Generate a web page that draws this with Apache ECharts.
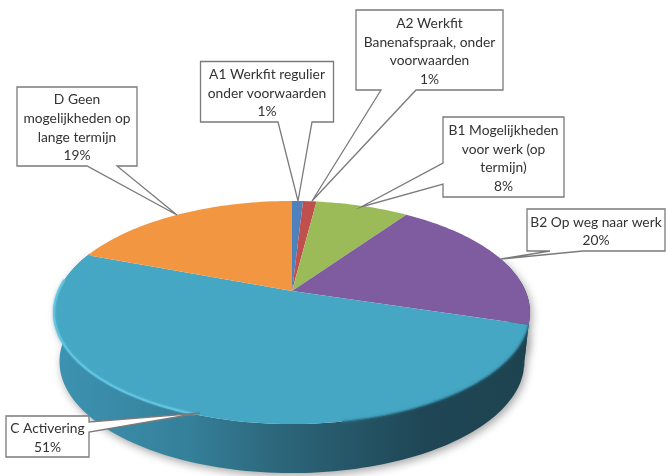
<!DOCTYPE html>
<html>
<head>
<meta charset="utf-8">
<style>html,body{margin:0;padding:0;background:#fff}#c{width:666px;height:476px}</style>
<script src="https://cdn.jsdelivr.net/npm/echarts@6/dist/echarts.min.js"></script>
</head>
<body>
<div id="c"></div>
<script>
// ---- data ----
const categories = [
  'A1 Werkfit regulier\nonder voorwaarden',
  'A2 Werkfit\nBanenafspraak, onder\nvoorwaarden',
  'B1 Mogelijkheden\nvoor werk (op\ntermijn)',
  'B2 Op weg naar werk',
  'C Activering',
  'D Geen\nmogelijkheden op\nlange termijn'
];
const percentages = [0.9, 1.1, 7.6, 20.2, 51, 19.2];
const sliceColors = ['#4f81bd', '#c0504d', '#9bbb59', '#7f5b9f', '#46a7c4', '#f39642'];

// ---- layout of the tilted pie and of the callouts ----
const view = { x0: 292, y0: 291, a: 233.5, b: 107.4, k: 0.193, depth: 49, baseScale: 0.977 };
// box [left, top, right, bottom], wedge base points, wedge tip
const callouts = [
  { box: [200.5, 61.5, 333.5, 122], base: [[312, 122], [278, 122]], tip: [298, 201] },
  { box: [356, 10, 503, 90],        base: [[416, 90], [381, 90]],   tip: [312, 201] },
  { box: [443, 117, 564, 197],      base: [[443, 184], [443, 163]], tip: [361, 207] },
  { box: [527, 209, 665, 251],      base: [[583, 251], [550, 251]], tip: [501, 259] },
  { box: [6, 416, 89, 457],         base: [[89, 422], [89, 432]],   tip: [200, 413] },
  { box: [17, 87, 137, 166],        base: [[117, 166], [87, 166]],  tip: [177, 215] }
];

const total = percentages.reduce((s, v) => s + v, 0);
const cumulative = [];
percentages.reduce((s, v, i) => (cumulative[i] = s, s + v), 0);

function project(deg, r) {
  const t = deg * Math.PI / 180, u = r * Math.sin(t), v = -r * Math.cos(t);
  const d = 1 - view.k * v;
  return [view.x0 + view.a * u / d, view.y0 + view.b * v / d];
}
function rim(from, to) {
  const pts = [], n = Math.max(2, Math.ceil(Math.abs(to - from) / 1.5));
  for (let i = 0; i <= n; i++) pts.push(project(from + (to - from) * i / n, 1));
  return pts;
}
function base(p) {
  return [view.x0 + (p[0] - view.x0) * view.baseScale, p[1] + view.depth];
}
function angles(i) {
  return [cumulative[i] / total * 360, (cumulative[i] + percentages[i]) / total * 360];
}

function renderWall(params, api) {
  const i = params.dataIndex, a = angles(i);
  const from = Math.max(a[0], 70), to = Math.min(a[1], 292);
  if (to <= from) return { type: 'group', children: [] };
  const top = rim(from, to);
  const bottom = top.map(base).reverse();
  return {
    type: 'polygon',
    shape: { points: top.concat(bottom) },
    style: {
      fill: new echarts.graphic.LinearGradient(0, 0, 1, 0, [
        { offset: 0, color: '#3d93b2' },
        { offset: 0.28, color: '#35809a' },
        { offset: 0.5, color: '#2b6377' },
        { offset: 0.78, color: '#1f4655' },
        { offset: 1, color: '#1e4350' }
      ]),
      shadowBlur: 8, shadowOffsetX: 2, shadowOffsetY: 3, shadowColor: 'rgba(0,0,0,0.35)'
    }
  };
}
function renderFace(params, api) {
  const i = params.dataIndex, a = angles(i);
  const pts = [project(0, 0)].concat(rim(a[0], a[1]));
  return { type: 'polygon', shape: { points: pts }, style: { fill: sliceColors[i] } };
}
function renderHighlight(params, api) {
  const i = params.dataIndex, a = angles(i);
  const children = [];
  const lightFrom = Math.max(a[0], 200), lightTo = Math.min(a[1], 276);
  if (lightTo > lightFrom) children.push({
    type: 'polyline',
    shape: { points: rim(lightFrom, lightTo) },
    style: { fill: 'none', lineWidth: 2, stroke: '#62c4de', shadowBlur: 2, shadowColor: '#62c4de' }
  });
  const darkFrom = Math.max(a[0], a[0]), darkTo = Math.min(a[1], 170);
  if (darkTo > darkFrom && a[0] > 100) children.push({
    type: 'polyline',
    shape: { points: rim(darkFrom, darkTo) },
    style: { fill: 'none', lineWidth: 1.2, stroke: '#2f7b93', shadowBlur: 3, shadowColor: '#2f7b93' }
  });
  return { type: 'group', children: children };
}
function renderCallout(params, api) {
  const i = params.dataIndex, c = callouts[i], b = c.box;
  const text = categories[i] + '\n' + Math.round(api.value(0)) + '%';
  const outline = [[b[0], b[1]], [b[2], b[1]]];
  if (i === 2) outline.push([b[2], b[3]], [b[0], b[3]], c.base[0], c.tip, c.base[1]);
  else if (i === 4) outline.push(c.base[0], c.tip, c.base[1], [b[2], b[3]], [b[0], b[3]]);
  else outline.push([b[2], b[3]], c.base[0], c.tip, c.base[1], [b[0], b[3]]);
  return {
    type: 'group',
    children: [
      { type: 'polygon', shape: { points: outline },
        style: { fill: '#fff', stroke: '#7a7a7a', lineWidth: 1.3, lineJoin: 'miter' } },
      { type: 'text', x: (b[0] + b[2]) / 2, y: (b[1] + b[3]) / 2 + 1.5,
        style: { text: text, align: 'center', verticalAlign: 'middle',
                 font: '13.8px Lato', lineHeight: 18.7, fill: '#333333' } }
    ]
  };
}

const seriesData = percentages.map((v, i) => ({ name: categories[i], value: [v] }));
const layer = (fn) => ({ type: 'custom', coordinateSystem: 'none', renderItem: fn, data: seriesData, silent: true, animation: false });

const chart = echarts.init(document.getElementById('c'), null, { renderer: 'canvas' });
chart.setOption({
  backgroundColor: '#fff',
  animation: false,
  series: [layer(renderWall), layer(renderFace), layer(renderHighlight), layer(renderCallout)]
});
</script>
</body>
</html>
